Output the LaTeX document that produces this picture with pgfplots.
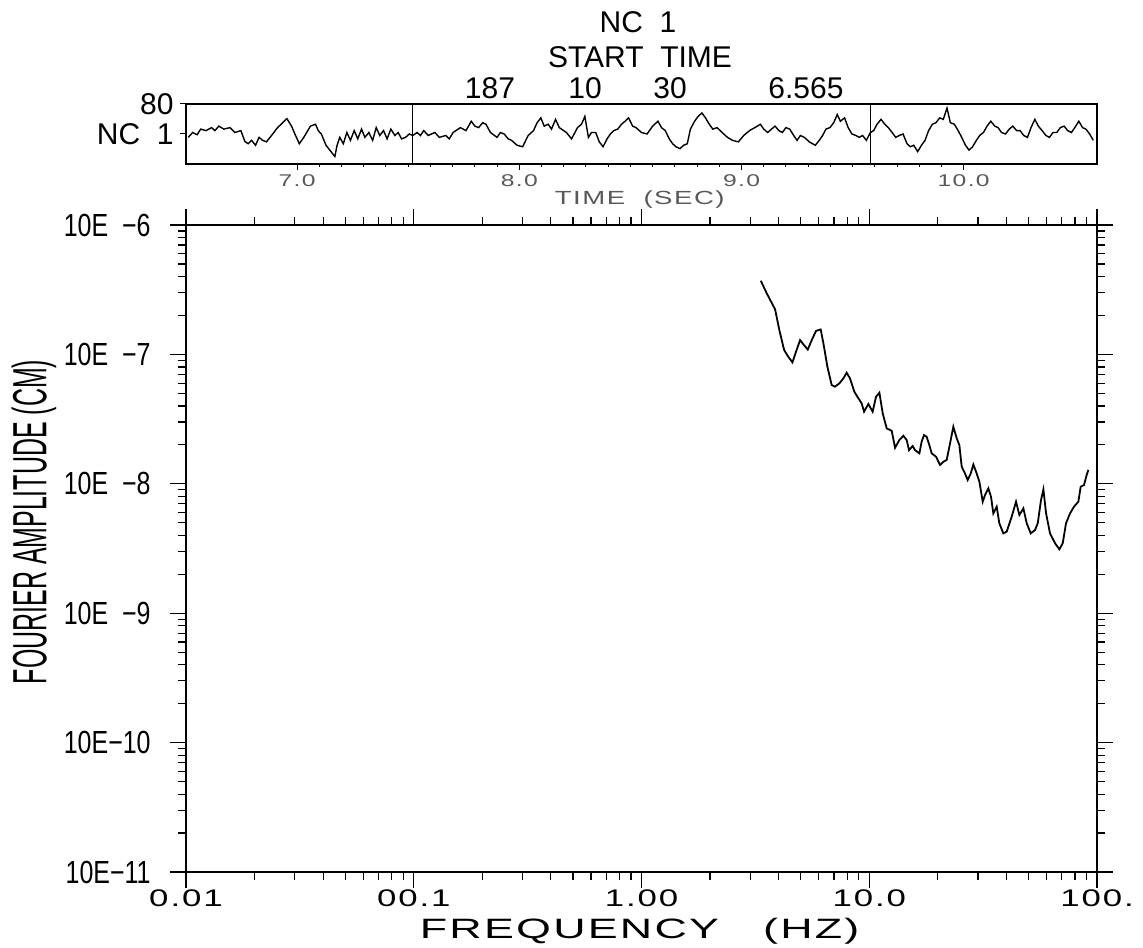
\documentclass[border=0pt]{standalone}
\usepackage{fontspec}
\setmainfont{Liberation Sans}
\newfontfamily\plotfont[FakeStretch=1.45,LetterSpace=8]{Liberation Sans}
\newfontfamily\labfont[FakeStretch=1.6,LetterSpace=8]{Liberation Sans}
\newfontfamily\condfont[FakeStretch=0.52]{Liberation Sans}
\newfontfamily\tickfont[FakeStretch=0.78]{Liberation Sans}
\usepackage{pgfplots}
\pgfplotsset{compat=1.18}

\begin{document}
\begin{tikzpicture}
\useasboundingbox (0,0) rectangle (571.5pt,473.5pt);

% Fourier amplitude spectrum
\begin{axis}[
  at={(93pt,37.5pt)}, anchor=south west,
  scale only axis, width=455.5pt, height=323.5pt,
  xmode=log, ymode=log,
  xmin=0.01, xmax=100, ymin=1e-11, ymax=1e-6,
  xtick={0.01,0.1,1,10,100},
  xticklabels={0.01,00.1,1.00,10.0,100.},
  minor xtick={0.02,0.03,0.04,0.05,0.06,0.07,0.08,0.09,
               0.2,0.3,0.4,0.5,0.6,0.7,0.8,0.9,
               2,3,4,5,6,7,8,9,20,30,40,50,60,70,80,90},
  ytick={1e-11,1e-10,1e-9,1e-8,1e-7,1e-6},
  yticklabels={10E−11,10E−10,10E~~−9,10E~~−8,10E~~−7,10E~~−6},
  minor ytick={2e-11,3e-11,4e-11,5e-11,6e-11,7e-11,8e-11,9e-11,
               2e-10,3e-10,4e-10,5e-10,6e-10,7e-10,8e-10,9e-10,
               2e-9,3e-9,4e-9,5e-9,6e-9,7e-9,8e-9,9e-9,
               2e-8,3e-8,4e-8,5e-8,6e-8,7e-8,8e-8,9e-8,
               2e-7,3e-7,4e-7,5e-7,6e-7,7e-7,8e-7,9e-7},
  tick align=outside,
  major tick length=8pt, minor tick length=4pt,
  every tick/.style={black, line width=0.6pt},
  axis line style={line width=0.7pt},
  xticklabel style={font=\plotfont\fontsize{12}{12}\selectfont, anchor=center, inner sep=0pt, yshift=-5pt},
  yticklabel style={font=\tickfont\fontsize{16}{16}\selectfont, anchor=east, inner sep=0pt, xshift=-9.5pt},
  xlabel={FREQUENCY~~~(HZ)},
  xlabel style={font=\labfont\fontsize{14}{14}\selectfont, inner sep=0pt, at={(axis description cs:0.498,-0.092)}, anchor=center},
  ylabel={FOURIER AMPLITUDE (CM)},
  ylabel style={font=\condfont\fontsize{24}{24}\selectfont, at={(axis description cs:-0.167,0.541)}, anchor=center},
]
\addplot[black, line width=0.9pt] coordinates {
  (3.34,3.71e-7) (3.55,2.96e-7) (3.86,2.23e-7) (4.03,1.54e-7) (4.23,1.08e-7)
  (4.41,9.60e-8) (4.60,8.68e-8) (4.77,1.05e-7) (4.97,1.29e-7) (5.17,1.18e-7)
  (5.37,1.09e-7) (5.59,1.29e-7) (5.84,1.52e-7) (6.12,1.56e-7) (6.29,1.22e-7)
  (6.55,8.04e-8) (6.84,5.80e-8) (7.07,5.63e-8) (7.39,5.97e-8) (7.70,6.53e-8)
  (7.96,7.22e-8) (8.23,6.53e-8) (8.60,5.15e-8) (8.96,4.58e-8) (9.26,4.19e-8)
  (9.49,3.61e-8) (9.91,4.14e-8) (10.35,3.61e-8) (10.71,4.71e-8) (11.08,5.06e-8)
  (11.46,3.50e-8) (11.93,2.68e-8) (12.55,2.57e-8) (12.98,1.90e-8) (13.56,2.18e-8)
  (14.12,2.35e-8) (14.60,2.18e-8) (14.95,1.82e-8) (15.51,1.96e-8) (15.89,1.82e-8)
  (16.60,1.72e-8) (16.99,2.12e-8) (17.40,2.38e-8) (17.87,2.31e-8) (18.36,1.99e-8)
  (18.80,1.72e-8) (19.64,1.62e-8) (20.46,1.40e-8) (21.16,1.48e-8) (21.88,1.53e-8)
  (22.63,2.05e-8) (23.40,2.76e-8) (24.21,2.25e-8) (24.87,1.99e-8) (25.46,1.36e-8)
  (26.33,1.20e-8) (27.05,1.07e-8) (27.89,1.20e-8) (28.65,1.41e-8) (29.64,1.20e-8)
  (30.45,1.04e-8) (31.49,7.28e-9) (32.24,8.19e-9) (33.34,9.22e-9) (34.25,7.95e-9)
  (35.06,5.91e-9) (36.27,6.66e-9) (37.26,4.95e-9) (38.80,4.14e-9) (40.13,4.27e-9)
  (42.21,5.57e-9) (44.11,7.28e-9) (45.62,5.74e-9) (47.51,6.46e-9) (49.14,4.95e-9)
  (51.17,4.14e-9) (53.46,4.40e-9) (54.92,4.95e-9) (56.79,7.50e-9) (58.16,9.06e-9)
  (59.75,5.91e-9) (62.20,4.14e-9) (65.43,3.47e-9) (68.36,3.12e-9) (70.71,3.47e-9)
  (73.11,4.95e-9) (76.14,5.91e-9) (79.27,6.66e-9) (82.82,7.28e-9) (84.79,9.50e-9)
  (87.70,9.79e-9) (90.09,1.17e-8) (91.64,1.28e-8)
};
\end{axis}

% time history strip
\begin{axis}[
  at={(93pt,391.5pt)}, anchor=south west,
  scale only axis, width=455.5pt, height=30pt,
  xmin=6.5, xmax=10.6, ymin=-80, ymax=80,
  xtick={7,8,9,10}, xticklabels={7.0,8.0,9.0,10.0},
  minor x tick num=9,
  extra x ticks={7.52,9.58}, extra x tick labels={},
  extra x tick style={grid=major, major grid style={black, line width=0.6pt}, major tick length=0pt},
  ytick={0,80}, yticklabels={NC~~1,80},
  xtick pos=bottom, ytick pos=left,
  tick align=outside,
  major tick length=3pt, minor tick length=1.5pt,
  every tick/.style={black, line width=0.5pt},
  axis line style={line width=1.3pt},
  xticklabel style={font=\plotfont\fontsize{8.5}{8.5}\selectfont, text=black!65, anchor=center, yshift=-5.5pt},
  yticklabel style={font=\fontsize{15}{15}\selectfont, anchor=east, inner sep=0pt, xshift=-3pt},
  xlabel={TIME~~(SEC)},
  xlabel style={font=\plotfont\fontsize{9.5}{9.5}\selectfont, text=black!65, at={(axis description cs:0.498,-0.6)}, anchor=center},
]
\addplot[black, line width=0.7pt] coordinates {
  (6.510,-9) (6.530,4) (6.550,-2) (6.566,13) (6.590,9) (6.615,17) (6.630,9) (6.648,21)
  (6.670,13) (6.698,17) (6.720,4) (6.747,9) (6.765,-20) (6.780,-26) (6.795,-17) (6.813,-30)
  (6.829,-9) (6.845,-17) (6.862,-21) (6.885,-4) (6.912,17) (6.935,30) (6.954,41) (6.975,21)
  (6.990,0) (7.010,-26) (7.030,-9) (7.060,21) (7.083,26) (7.095,9) (7.109,0) (7.130,-30)
  (7.159,-52) (7.170,-60) (7.180,-30) (7.192,-9) (7.208,-26) (7.224,4) (7.240,-17) (7.257,9)
  (7.273,-13) (7.290,13) (7.305,-9) (7.323,4) (7.340,-17) (7.356,17) (7.372,-4) (7.389,9)
  (7.405,-13) (7.422,13) (7.440,-4) (7.455,4) (7.470,-13) (7.488,-9) (7.505,0) (7.521,-4)
  (7.540,4) (7.555,-4) (7.570,9) (7.590,-4) (7.620,4) (7.640,-9) (7.669,-4) (7.685,-13)
  (7.702,4) (7.735,17) (7.760,9) (7.784,34) (7.800,21) (7.817,17) (7.835,30) (7.850,26)
  (7.870,4) (7.900,-9) (7.915,4) (7.932,0) (7.950,-13) (7.965,-17) (7.990,-30) (8.015,-34)
  (8.040,-4) (8.064,9) (8.080,30) (8.097,43) (8.112,21) (8.130,26) (8.145,13) (8.163,39)
  (8.180,17) (8.212,4) (8.235,-13) (8.262,17) (8.280,26) (8.295,47) (8.311,-9) (8.325,4)
  (8.344,4) (8.360,-21) (8.377,-34) (8.395,-13) (8.410,0) (8.425,9) (8.443,13) (8.460,26)
  (8.476,34) (8.492,43) (8.510,21) (8.525,17) (8.550,4) (8.575,0) (8.600,21) (8.624,34)
  (8.640,17) (8.657,9) (8.675,-13) (8.690,-26) (8.705,-34) (8.723,-39) (8.740,-30) (8.756,-26)
  (8.770,13) (8.789,34) (8.805,47) (8.822,56) (8.838,43) (8.855,26) (8.871,13) (8.890,17)
  (8.904,9) (8.920,0) (8.937,-9) (8.960,-17) (8.986,-21) (9.010,-4) (9.036,9) (9.060,17)
  (9.085,26) (9.100,13) (9.118,4) (9.135,13) (9.151,21) (9.168,9) (9.184,4) (9.200,17)
  (9.217,13) (9.235,-4) (9.250,-17) (9.265,-4) (9.283,-9) (9.305,-21) (9.332,-30) (9.350,-17)
  (9.365,-4) (9.380,13) (9.398,17) (9.415,30) (9.431,52) (9.445,34) (9.464,43) (9.480,17)
  (9.497,0) (9.515,-4) (9.530,-9) (9.545,-4) (9.562,-17) (9.580,4) (9.595,9) (9.610,26)
  (9.628,39) (9.645,26) (9.661,17) (9.678,4) (9.694,-9) (9.710,-4) (9.727,0) (9.745,-26)
  (9.760,-34) (9.775,-30) (9.793,-47) (9.810,-30) (9.826,-17) (9.842,9) (9.859,26) (9.875,30)
  (9.892,43) (9.908,39) (9.925,69) (9.940,30) (9.958,26) (9.975,9) (9.991,-9) (10.008,-30)
  (10.024,-43) (10.040,-34) (10.057,-17) (10.072,-4) (10.089,4) (10.105,21) (10.122,34) (10.140,21)
  (10.155,17) (10.170,4) (10.188,0) (10.205,13) (10.221,21) (10.238,9) (10.254,9) (10.270,-4)
  (10.287,-9) (10.303,17) (10.320,39) (10.336,21) (10.353,9) (10.370,-4) (10.386,-9) (10.402,4)
  (10.419,4) (10.435,17) (10.452,21) (10.468,9) (10.485,4) (10.500,17) (10.518,34) (10.535,17)
  (10.550,13) (10.567,0) (10.583,-17)
};
\end{axis}

% header
\node[font=\fontsize{15}{15}\selectfont] at (319pt,462.5pt) {NC~~1};
\node[font=\fontsize{15}{15}\selectfont] at (320pt,445pt) {START~~TIME};
\node[font=\fontsize{15}{15}\selectfont] at (245pt,429.5pt) {187};
\node[font=\fontsize{15}{15}\selectfont] at (292.5pt,429.5pt) {10};
\node[font=\fontsize{15}{15}\selectfont] at (335pt,429.5pt) {30};
\node[font=\fontsize{15}{15}\selectfont] at (403pt,429.5pt) {6.565};
\end{tikzpicture}
\end{document}
